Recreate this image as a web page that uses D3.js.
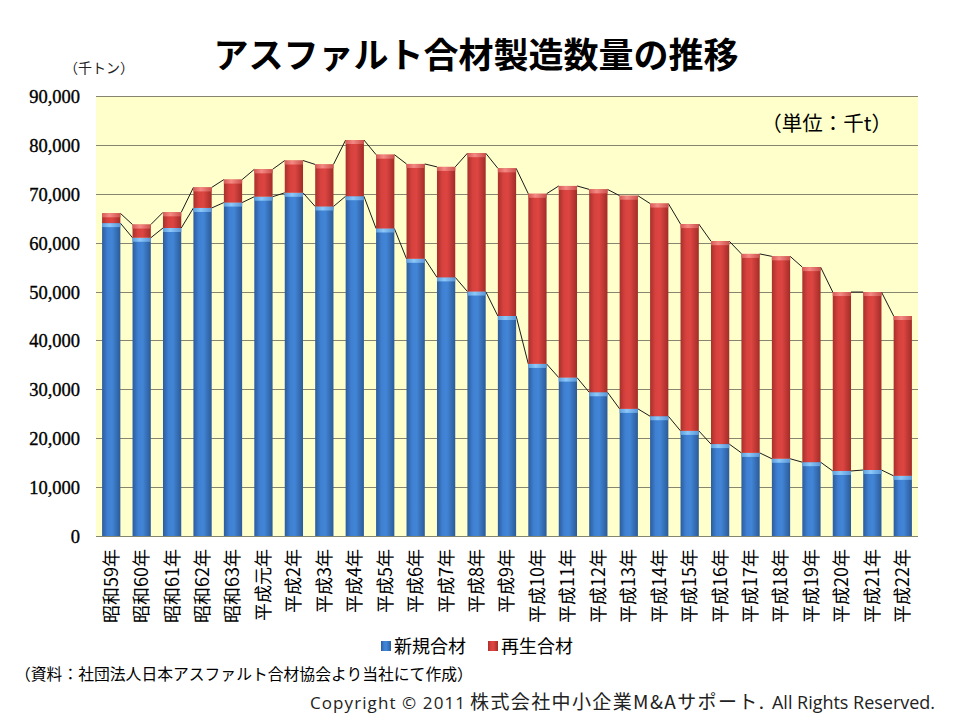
<!DOCTYPE html>
<html>
<head>
<meta charset="utf-8">
<script src="https://cdn.jsdelivr.net/npm/d3@7"></script>
<style>
  html, body { margin: 0; padding: 0; background: #ffffff; }
  svg { display: block; }
</style>
</head>
<body>
<svg id="chart" width="960" height="720"></svg>
<script>
// ---- data ----
const categories = ["昭和59年","昭和60年","昭和61年","昭和62年","昭和63年","平成元年","平成2年","平成3年","平成4年","平成5年","平成6年","平成7年","平成8年","平成9年","平成10年","平成11年","平成12年","平成13年","平成14年","平成15年","平成16年","平成17年","平成18年","平成19年","平成20年","平成21年","平成22年"];
const newMix      = [64000,61000,63000,67100,68200,69400,70200,67400,69500,62900,56700,52900,50000,45000,35200,32400,29400,26000,24500,21500,18800,17000,15800,15100,13300,13500,12300];
const recycledMix = [2000,2700,3200,4200,4700,5600,6600,8600,11500,15100,19400,22600,28300,30200,34800,39200,41500,43600,43500,42300,41500,40700,41400,39900,36600,36400,32700];
const seriesNames = ["新規合材","再生合材"];
const yTicks = [0,10000,20000,30000,40000,50000,60000,70000,80000,90000];

const titleText = "アスファルト合材製造数量の推移";
const unitLeft = "（千トン）";
const unitRight = "（単位：千t）";
const sourceText = "（資料：社団法人日本アスファルト合材協会より当社にて作成）";
const copyrightParts = ["Copyright © 2011 ", "株式会社中小企業M&Aサポート.", "All Rights Reserved."];

// ---- layout ----
const svg = d3.select("#chart");
const plot = {left: 96, right: 918, top: 96, bottom: 536};
const JP = "'Noto Sans CJK JP', 'Noto Sans', sans-serif";

const x = d3.scaleBand().domain(categories).range([plot.left, plot.right])
  .paddingInner(0.4).paddingOuter(0.2);
const y = d3.scaleLinear().domain([0, 90000]).range([plot.bottom, plot.top]);

// gradients
const defs = svg.append("defs");
function hGrad(id, stops) {
  const g = defs.append("linearGradient").attr("id", id)
    .attr("x1", "0%").attr("x2", "100%").attr("y1", "0%").attr("y2", "0%");
  stops.forEach(s => g.append("stop").attr("offset", s[0]).attr("stop-color", s[1]));
}
hGrad("gBlue", [["0%","#2c5c9c"],["30%","#3f80d2"],["55%","#4285d6"],["100%","#2b5a98"]]);
hGrad("gRed", [["0%","#a8302c"],["30%","#d8423e"],["55%","#dc4541"],["100%","#a22c28"]]);
hGrad("gBlueTop", [["0%","#5d9ee0"],["40%","#8cc8f8"],["100%","#5a96d8"]]);
hGrad("gRedTop", [["0%","#d85a56"],["40%","#f48a84"],["100%","#cc504c"]]);

// plot background
svg.append("rect").attr("x", plot.left).attr("y", plot.top)
  .attr("width", plot.right - plot.left).attr("height", plot.bottom - plot.top)
  .attr("fill", "#ffffcc");

// gridlines
svg.append("g").selectAll("line").data(yTicks).join("line")
  .attr("x1", plot.left).attr("x2", plot.right)
  .attr("y1", d => Math.round(y(d)) + 0.5).attr("y2", d => Math.round(y(d)) + 0.5)
  .attr("stroke", "#858570").attr("stroke-width", 1);

// y axis labels
const yAxis = d3.axisLeft(y).tickValues(yTicks).tickFormat(d3.format(",")).tickSize(0).tickPadding(16);
const yg = svg.append("g").attr("transform", `translate(${plot.left},0)`).call(yAxis);
yg.select(".domain").remove();
yg.selectAll("text").attr("font-family", "'Liberation Serif', serif").attr("font-size", 18.5)
  .attr("fill", "#000").attr("font-weight", "normal").attr("stroke", "#000").attr("stroke-width", 0.35)
  .attr("dy", "0.35em");

// stacked data
const rows = categories.map((c, i) => ({cat: c, n: newMix[i], r: recycledMix[i]}));
const bw = x.bandwidth();

// series lines
const lineG = svg.append("g");
for (let i = 0; i < rows.length - 1; i++) {
  const a = rows[i], b = rows[i + 1];
  lineG.append("line")
    .attr("x1", x(a.cat) + bw).attr("x2", x(b.cat))
    .attr("y1", y(a.n)).attr("y2", y(b.n))
    .attr("stroke", "#1a1a1a").attr("stroke-width", 1);
  lineG.append("line")
    .attr("x1", x(a.cat) + bw).attr("x2", x(b.cat))
    .attr("y1", y(a.n + a.r)).attr("y2", y(b.n + b.r))
    .attr("stroke", "#1a1a1a").attr("stroke-width", 1);
}

// bars
const barG = svg.append("g");
const bars = barG.selectAll("g").data(rows).join("g");
bars.append("rect").attr("x", d => x(d.cat)).attr("width", bw)
  .attr("y", d => y(d.n)).attr("height", d => y(0) - y(d.n))
  .attr("fill", "url(#gBlue)");
bars.append("rect").attr("x", d => x(d.cat)).attr("width", bw)
  .attr("y", d => y(d.n)).attr("height", 4)
  .attr("fill", "url(#gBlueTop)");
bars.append("rect").attr("x", d => x(d.cat)).attr("width", bw)
  .attr("y", d => y(d.n + d.r)).attr("height", d => y(d.n) - y(d.n + d.r))
  .attr("fill", "url(#gRed)");
bars.append("rect").attr("x", d => x(d.cat)).attr("width", bw)
  .attr("y", d => y(d.n + d.r)).attr("height", d => Math.min(4, y(d.n) - y(d.n + d.r)))
  .attr("fill", "url(#gRedTop)");

// x labels (rotated)
const xAxis = d3.axisBottom(x).tickSize(0).tickPadding(0);
const xg = svg.append("g").attr("transform", `translate(0,${plot.bottom})`).call(xAxis);
xg.select(".domain").remove();
xg.selectAll("text")
  .attr("font-family", JP).attr("font-size", 18).attr("fill", "#000")
  .attr("text-anchor", "end")
  .attr("transform", "rotate(-90)")
  .attr("x", -13).attr("y", 0).attr("dy", "0.36em");

// title
svg.append("text").attr("x", 476).attr("y", 68).attr("text-anchor", "middle")
  .attr("font-family", JP).attr("font-weight", "bold").attr("font-size", 35)
  .attr("fill", "#000").text(titleText);

// unit labels
svg.append("text").attr("x", 64).attr("y", 73)
  .attr("font-family", JP).attr("font-size", 14).attr("fill", "#222").text(unitLeft);
svg.append("text").attr("x", 892).attr("y", 131).attr("text-anchor", "end")
  .attr("font-family", JP).attr("font-size", 20.5).attr("fill", "#000").text(unitRight);

// legend
const legend = svg.append("g");
const legItems = [{name: seriesNames[0], fill: "url(#gBlue)", x: 381}, {name: seriesNames[1], fill: "url(#gRed)", x: 488}];
legItems.forEach(it => {
  legend.append("rect").attr("x", it.x).attr("y", 641).attr("width", 10).attr("height", 10)
    .attr("fill", it.fill);
  legend.append("text").attr("x", it.x + 13).attr("y", 653)
    .attr("font-family", JP).attr("font-size", 18).attr("fill", "#000").text(it.name);
});

// source
svg.append("text").attr("x", 15).attr("y", 680)
  .attr("font-family", JP).attr("font-size", 15.8).attr("fill", "#000").text(sourceText);

// copyright (three runs)
const cp = svg.append("g").attr("fill", "#222");
cp.append("text").attr("x", 310).attr("y", 709)
  .attr("font-family", "'Open Sans', sans-serif").attr("font-size", 17)
  .attr("textLength", 155).attr("lengthAdjust", "spacing").text(copyrightParts[0]);
cp.append("text").attr("x", 470).attr("y", 709)
  .attr("font-family", JP).attr("font-size", 19)
  .attr("textLength", 294).attr("lengthAdjust", "spacing").text(copyrightParts[1]);
cp.append("text").attr("x", 772).attr("y", 709)
  .attr("font-family", "'Open Sans', sans-serif").attr("font-size", 18)
  .attr("textLength", 163).attr("lengthAdjust", "spacing").text(copyrightParts[2]);
</script>
</body>
</html>
